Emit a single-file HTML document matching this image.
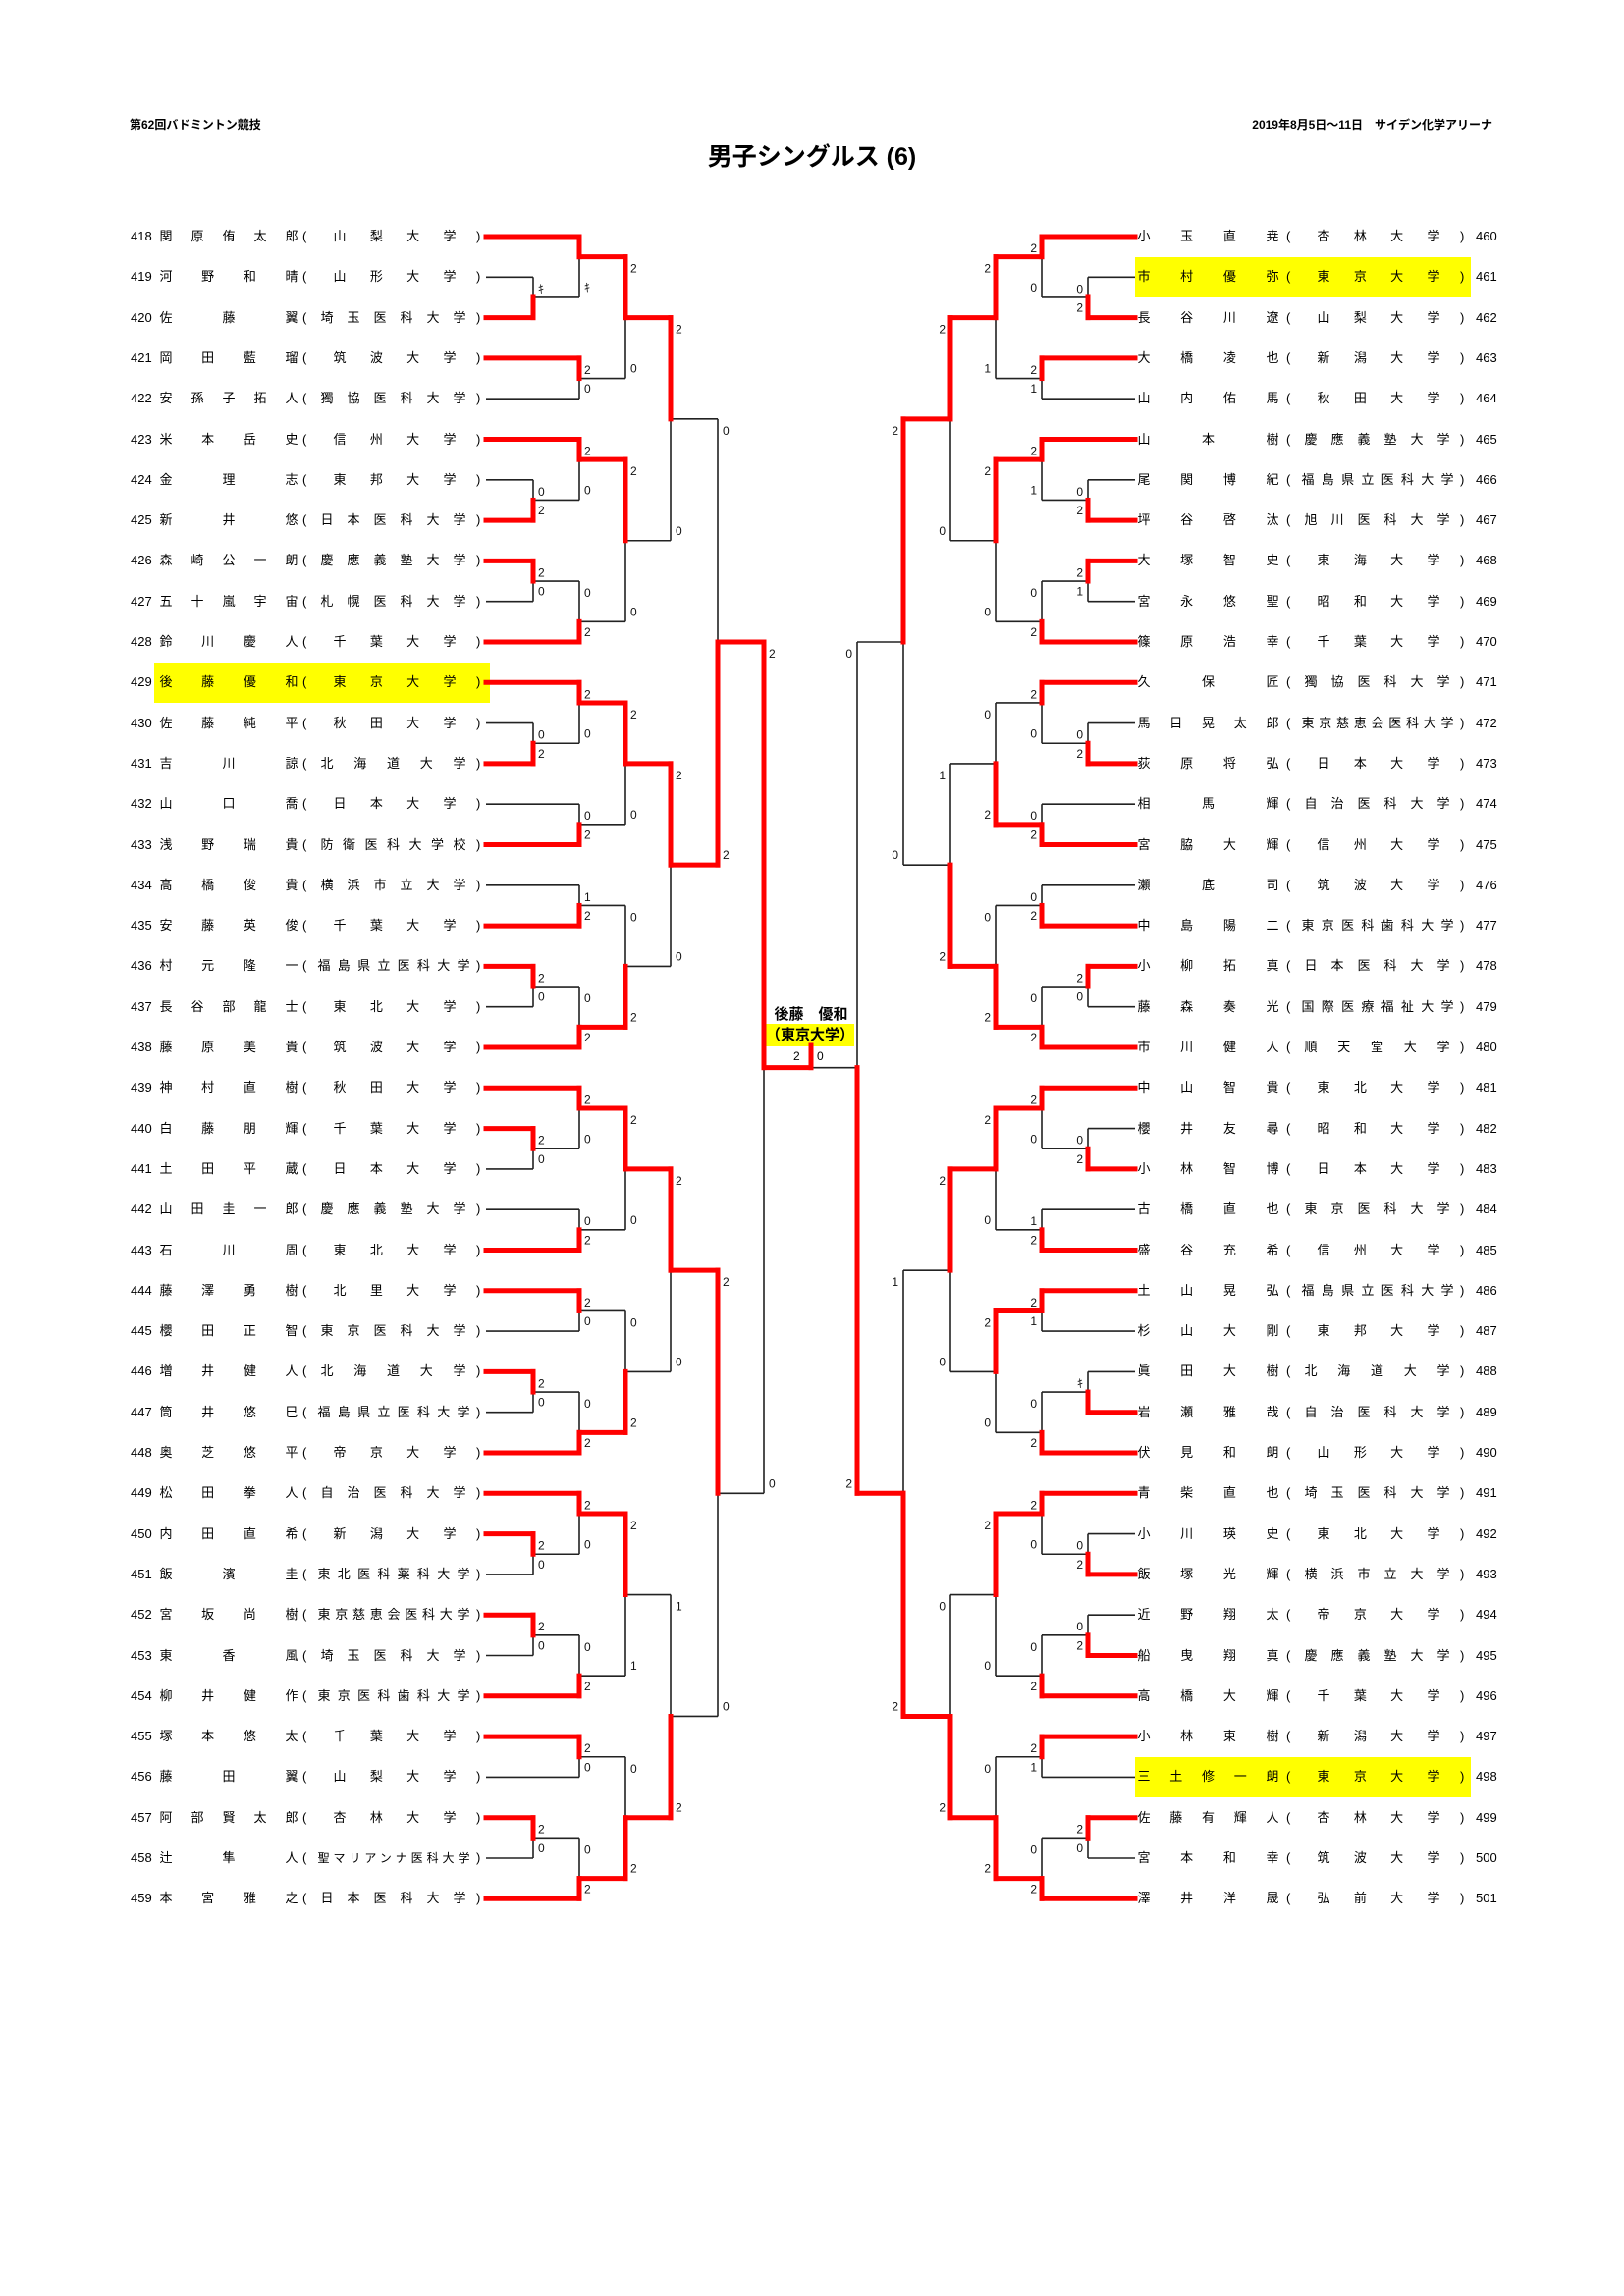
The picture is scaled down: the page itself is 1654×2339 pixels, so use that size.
<!DOCTYPE html>
<html><head><meta charset="utf-8">
<style>
html,body{margin:0;padding:0;background:#fff;}
body{width:1654px;height:2339px;position:relative;overflow:hidden;font-family:"Liberation Sans","Noto Sans CJK JP",sans-serif;color:#000;}
.a{position:absolute;white-space:nowrap;}
.hd{font-size:12px;font-weight:bold;top:118px;}
.title{font-size:25px;font-weight:bold;top:140px;left:0;width:1654px;text-align:center;}
.r{position:absolute;height:18px;line-height:18px;font-size:13px;}
.num{font-family:"Liberation Sans Narrow","Liberation Sans",sans-serif;font-size:13px;}
.j{position:absolute;top:0;height:18px;text-align:justify;text-align-last:justify;text-justify:inter-character;white-space:nowrap;overflow:visible;}
.hl{position:absolute;background:#ffff00;}
svg{position:absolute;left:0;top:0;}
</style></head><body>
<div class="hl" style="left:157px;top:675px;width:342px;height:41px"></div>
<div class="hl" style="left:1156px;top:262px;width:342px;height:41px"></div>
<div class="hl" style="left:1156px;top:1790px;width:342px;height:41px"></div>
<div class="hl" style="left:780px;top:1043px;width:90px;height:23px"></div>

<div class="a hd" style="left:132px">第62回バドミントン競技</div>
<div class="a hd" style="right:134px">2019年8月5日～11日　サイデン化学アリーナ</div>
<div class="a title">男子シングルス (6)</div>

<div id="rows"></div>
<div class="a" style="left:760px;top:1022px;width:132px;text-align:center;font-size:15px;font-weight:bold">後藤　優和</div>
<div class="a" style="left:780px;top:1044px;width:90px;text-align:center;font-size:15px;font-weight:bold;line-height:22px">（東京大学）</div>
<div class="a" style="left:808px;top:1069px;font-size:12px">2</div>
<div class="a" style="left:832px;top:1069px;font-size:12px">0</div>
<div id="br"></div>

<div id="names" style="display:none">
418,関原,侑太郎,山梨大学
419,河野,和晴,山形大学
420,佐藤,翼,埼玉医科大学
421,岡田,藍瑠,筑波大学
422,安孫子,拓人,獨協医科大学
423,米本,岳史,信州大学
424,金,理志,東邦大学
425,新井,悠,日本医科大学
426,森崎,公一朗,慶應義塾大学
427,五十嵐,宇宙,札幌医科大学
428,鈴川,慶人,千葉大学
429,後藤,優和,東京大学
430,佐藤,純平,秋田大学
431,吉川,諒,北海道大学
432,山口,喬,日本大学
433,浅野,瑞貴,防衛医科大学校
434,高橋,俊貴,横浜市立大学
435,安藤,英俊,千葉大学
436,村元,隆一,福島県立医科大学
437,長谷部,龍士,東北大学
438,藤原,美貴,筑波大学
439,神村,直樹,秋田大学
440,白藤,朋輝,千葉大学
441,土田,平蔵,日本大学
442,山田,圭一郎,慶應義塾大学
443,石川,周,東北大学
444,藤澤,勇樹,北里大学
445,櫻田,正智,東京医科大学
446,増井,健人,北海道大学
447,筒井,悠巳,福島県立医科大学
448,奥芝,悠平,帝京大学
449,松田,拳人,自治医科大学
450,内田,直希,新潟大学
451,飯濱,圭,東北医科薬科大学
452,宮坂,尚樹,東京慈恵会医科大学
453,東,香風,埼玉医科大学
454,柳井,健作,東京医科歯科大学
455,塚本,悠太,千葉大学
456,藤田,翼,山梨大学
457,阿部,賢太郎,杏林大学
458,辻,隼人,聖マリアンナ医科大学
459,本宮,雅之,日本医科大学
460,小玉,直尭,杏林大学
461,市村,優弥,東京大学
462,長谷川,遼,山梨大学
463,大橋,凌也,新潟大学
464,山内,佑馬,秋田大学
465,山本,樹,慶應義塾大学
466,尾関,博紀,福島県立医科大学
467,坪谷,啓汰,旭川医科大学
468,大塚,智史,東海大学
469,宮永,悠聖,昭和大学
470,篠原,浩幸,千葉大学
471,久保,匠,獨協医科大学
472,馬目,晃太郎,東京慈恵会医科大学
473,荻原,将弘,日本大学
474,相馬,輝,自治医科大学
475,宮脇,大輝,信州大学
476,瀬底,司,筑波大学
477,中島,陽二,東京医科歯科大学
478,小柳,拓真,日本医科大学
479,藤森,奏光,国際医療福祉大学
480,市川,健人,順天堂大学
481,中山,智貴,東北大学
482,櫻井,友尋,昭和大学
483,小林,智博,日本大学
484,古橋,直也,東京医科大学
485,盛谷,充希,信州大学
486,土山,晃弘,福島県立医科大学
487,杉山,大剛,東邦大学
488,眞田,大樹,北海道大学
489,岩瀬,雅哉,自治医科大学
490,伏見,和朗,山形大学
491,青柴,直也,埼玉医科大学
492,小川,瑛史,東北大学
493,飯塚,光輝,横浜市立大学
494,近野,翔太,帝京大学
495,船曳,翔真,慶應義塾大学
496,高橋,大輝,千葉大学
497,小林,東樹,新潟大学
498,三土,修一朗,東京大学
499,佐藤,有輝人,杏林大学
500,宮本,和幸,筑波大学
501,澤井,洋晟,弘前大学
</div>

<script>
const Y=k=>241+k*20.65;
const lines=document.getElementById('names').textContent.trim().split('\n');
let h='';
lines.forEach((ln,idx)=>{
  const [n,s,g,u]=ln.trim().split(',');
  const left=idx<42; const i=left?idx:idx-42;
  const y=Y(2*i)-9;
  const nm=s+g; const L=u.length;
  let fs=L>=10?12:13;
  if(left){
    let ul,uw; if(L<=4){ul=339.5;uw=125;}else if(L<=7){ul=326.5;uw=148;}else{ul=323.5;uw=155;}
    h+=`<div class="r" style="left:0;top:${y}px;width:520px">`+
      `<span class="a num" style="left:133px;top:0">${n}</span>`+
      `<span class="j" style="left:162.5px;width:141px">${nm}</span>`+
      `<span class="a" style="left:308px;top:0">(</span>`+
      `<span class="j" style="left:${ul}px;width:${uw}px;font-size:${fs}px">${u}</span>`+
      `<span class="a" style="left:485px;top:0">)</span></div>`;
  }else{
    let ul,uw; if(L<=4){ul=1341.5;uw=125;}else if(L<=7){ul=1328.5;uw=148;}else{ul=1325.5;uw=155;}
    h+=`<div class="r" style="left:0;top:${y}px;width:1654px">`+
      `<span class="j" style="left:1158.5px;width:144px">${nm}</span>`+
      `<span class="a" style="left:1310px;top:0">(</span>`+
      `<span class="j" style="left:${ul}px;width:${uw}px;font-size:${fs}px">${u}</span>`+
      `<span class="a" style="left:1487px;top:0">)</span>`+
      `<span class="a num" style="left:1503px;top:0">${n}</span></div>`;
  }
});
document.getElementById('rows').innerHTML=h;

const LX=[495,543,590,637,683,731,778];
const RX=LX.map(x=>1651-x);
const K='ｷ';
const LM=[
[1,2,0,4,0,3,'l',K,''],[2,0,0,3,1,1,'u','',K],[2,6,0,8,0,7,'u',2,0],[3,1,2,7,2,4,'u',2,0],
[1,12,0,14,0,13,'l',0,2],[2,10,0,13,1,11,'u',2,0],[1,16,0,18,0,17,'u',2,0],[2,17,1,20,0,19,'l',0,2],
[3,11,2,19,2,15,'u',2,0],[4,4,3,15,3,9,'u',2,0],
[1,24,0,26,0,25,'l',0,2],[2,22,0,25,1,23,'u',2,0],[2,28,0,30,0,29,'l',0,2],[3,23,2,29,2,26,'u',2,0],
[2,32,0,34,0,33,'l',1,2],[1,36,0,38,0,37,'u',2,0],[2,37,1,40,0,39,'l',0,2],[3,33,2,39,2,36,'l',0,2],
[4,26,3,36,3,31,'u',2,0],[5,9,4,31,4,20,'l',0,2],
[1,44,0,46,0,45,'u',2,0],[2,42,0,45,1,43,'u',2,0],[2,48,0,50,0,49,'l',0,2],[3,43,2,49,2,46,'u',2,0],
[2,52,0,54,0,53,'u',2,0],[1,56,0,58,0,57,'u',2,0],[2,57,1,60,0,59,'l',0,2],[3,53,2,59,2,56,'l',0,2],
[4,46,3,56,3,51,'u',2,0],
[1,64,0,66,0,65,'u',2,0],[2,62,0,65,1,63,'u',2,0],[1,68,0,70,0,69,'u',2,0],[2,69,1,72,0,71,'l',0,2],
[3,63,2,71,2,67,'u',2,1],[2,74,0,76,0,75,'u',2,0],[1,78,0,80,0,79,'u',2,0],[2,79,1,82,0,81,'l',0,2],
[3,75,2,81,2,78,'l',0,2],[4,67,3,78,3,73,'l',1,2],[5,51,4,73,4,62,'u',2,0],[6,20,5,62,5,41,'u',2,0]
];
const RM=[
[1,2,0,4,0,3,'l',0,2],[2,0,0,3,1,1,'u',2,0],[2,6,0,8,0,7,'u',2,1],[3,1,2,7,2,4,'u',2,1],
[1,12,0,14,0,13,'l',0,2],[2,10,0,13,1,11,'u',2,1],[1,16,0,18,0,17,'u',2,1],[2,17,1,20,0,19,'l',0,2],
[3,11,2,19,2,15,'u',2,0],[4,4,3,15,3,9,'u',2,0],
[1,24,0,26,0,25,'l',0,2],[2,22,0,25,1,23,'u',2,0],[2,28,0,30,0,29,'l',0,2],[3,23,2,29,2,26,'l',0,2],
[2,32,0,34,0,33,'l',0,2],[1,36,0,38,0,37,'u',2,0],[2,37,1,40,0,39,'l',0,2],[3,33,2,39,2,36,'l',0,2],
[4,26,3,36,3,31,'l',1,2],[5,9,4,31,4,20,'u',2,0],
[1,44,0,46,0,45,'l',0,2],[2,42,0,45,1,43,'u',2,0],[2,48,0,50,0,49,'l',1,2],[3,43,2,49,2,46,'u',2,0],
[2,52,0,54,0,53,'u',2,1],[1,56,0,58,0,57,'l',K,''],[2,57,1,60,0,59,'l',0,2],[3,53,2,59,2,56,'u',2,0],
[4,46,3,56,3,51,'u',2,0],
[1,64,0,66,0,65,'l',0,2],[2,62,0,65,1,63,'u',2,0],[1,68,0,70,0,69,'l',0,2],[2,69,1,72,0,71,'l',0,2],
[3,63,2,71,2,67,'u',2,0],[2,74,0,76,0,75,'u',2,1],[1,78,0,80,0,79,'u',2,0],[2,79,1,82,0,81,'l',0,2],
[3,75,2,81,2,78,'l',0,2],[4,67,3,78,3,73,'l',0,2],[5,51,4,73,4,62,'l',1,2],[6,20,5,62,5,41,'l',0,2]
];
let blk='',red='',txt='';
function seg(x1,y1,x2,y2,r){const s=`<line x1="${x1}" y1="${y1}" x2="${x2}" y2="${y2}"/>`; if(r) red+=s; else blk+=s;}
function draw(M,X,right){
  M.forEach(m=>{
    const [c,uk,uf,lk,lf,ok,w,su,sl]=m;
    const xc=X[c], yu=Y(uk), yl=Y(lk), yo=Y(ok);
    seg(X[uf],yu,xc,yu,w==='u');
    seg(X[lf],yl,xc,yl,w==='l');
    seg(xc,yu,xc,yo,w==='u');
    seg(xc,yl,xc,yo,w==='l');
    const tx=right?xc-5:xc+5, an=right?'end':'start';
    if(su!=='') txt+=`<text x="${tx}" y="${yu+12}" text-anchor="${an}">${su}</text>`;
    if(sl!=='') txt+=`<text x="${tx}" y="${yl-10}" text-anchor="${an}">${sl}</text>`;
  });
}
draw(LM,LX,false); draw(RM,RX,true);
const yf=Y(41);
seg(778,yf,826,yf,true); seg(826,yf,826,1065,true); seg(873,yf,826,yf,false);
document.getElementById('br').innerHTML=`<svg width="1654" height="2339" viewBox="0 0 1654 2339">
<g stroke="#222" stroke-width="1.6" fill="none">${blk}</g>
<g stroke="#ff0000" stroke-width="5" stroke-linecap="square" fill="none">${red}</g>
<g font-family="Liberation Sans,Noto Sans CJK JP,sans-serif" font-size="12" fill="#111" dominant-baseline="central">${txt}</g></svg>`;
</script>
</body></html>
